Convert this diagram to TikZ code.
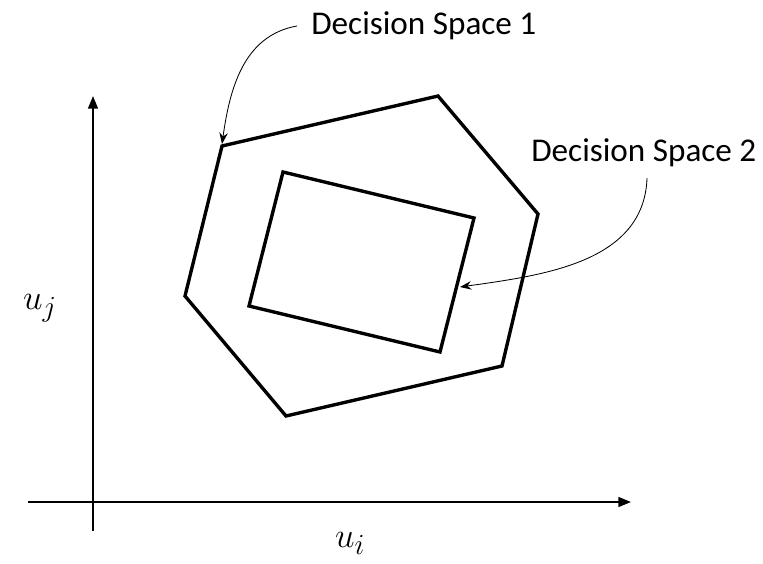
\documentclass[tikz,border=0pt]{standalone}
\usepackage{fontspec}
\setmainfont{Carlito}
\usetikzlibrary{arrows.meta}

\begin{document}
\begin{tikzpicture}[x=0.025cm,y=-0.025cm,
  axis/.style={line width=1.4pt,-{Triangle[length=9pt,width=7pt]}},
  region/.style={line width=2.4pt,line join=miter},
  callout/.style={line width=0.6pt,-{Stealth[length=8pt,width=6pt]}},
  tag/.style={font=\fontsize{23.6}{28}\selectfont,inner sep=0pt,anchor=west}]
  \useasboundingbox (0,0) rectangle (763,564);

  % axes
  \coordinate (xstart) at (28,502);
  \coordinate (xend) at (631,502);
  \coordinate (ystart) at (93,531);
  \coordinate (yend) at (93,96);
  \draw[axis] (xstart) -- (xend);
  \draw[axis] (ystart) -- (yend);
  \node (ui) at (350,543) {\fontsize{28}{32}\selectfont$u_i$};
  \node (uj) at (40,308) {\fontsize{28}{32}\selectfont$u_j$};

  % decision space 1
  \coordinate (a1) at (222,146);
  \coordinate (a2) at (438,96);
  \coordinate (a3) at (538,214);
  \coordinate (a4) at (502,366);
  \coordinate (a5) at (286,416);
  \coordinate (a6) at (185,296);
  \draw[region] (a1) -- (a2) -- (a3) -- (a4) -- (a5) -- (a6) -- cycle;

  % decision space 2
  \coordinate (b1) at (283,172);
  \coordinate (b2) at (474,218);
  \coordinate (b3) at (440,352);
  \coordinate (b4) at (249,306);
  \draw[region] (b1) -- (b2) -- (b3) -- (b4) -- cycle;

  % labels
  \node[tag] (ds1) at (311,26) {Decision Space 1};
  \node[tag] (ds2) at (531,153) {Decision Space 2};
  \coordinate (tip1) at (222,144);
  \coordinate (tip2) at (460,287);
  \draw[callout] ([xshift=-0.35cm]ds1.west) to[out=190,in=82] (tip1);
  \draw[callout] ([xshift=2.9cm,yshift=-0.625cm]ds2.west) to[out=-92,in=8] (tip2);
\end{tikzpicture}
\end{document}
